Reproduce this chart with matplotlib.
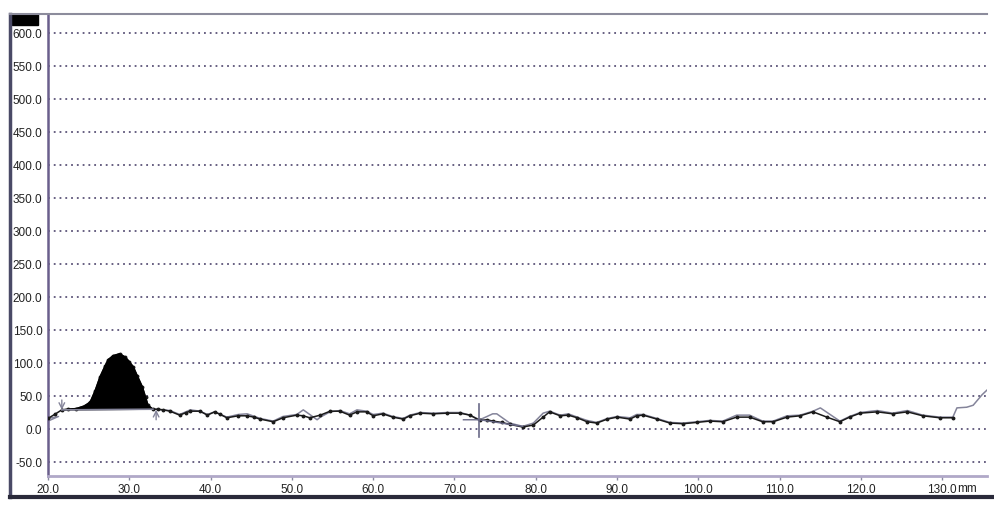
import numpy as np
import matplotlib.pyplot as plt
from matplotlib.lines import Line2D
from matplotlib.patches import Rectangle

plt.rcParams['font.family'] = ['Liberation Sans', 'DejaVu Sans']

# 轮廓数据 (黑色带点曲线)
prof_x = [20.0, 20.8, 21.7, 22.5, 23.5, 24.5, 25.2, 25.8, 26.4, 27.0, 27.4, 28.0, 28.8,
          29.5, 30.0, 30.5, 31.0, 31.6, 32.0, 32.3, 32.9, 33.5, 34.2, 35.0, 36.2, 37.0,
          37.5, 38.7, 39.6, 40.5, 41.2, 42.0, 43.4, 44.5, 45.3, 46.1, 47.7, 48.9, 50.6,
          51.4, 52.2, 53.5, 54.7, 55.9, 57.1, 58.0, 59.2, 60.0, 61.2, 62.4, 63.7, 64.5,
          65.8, 67.4, 69.1, 70.7, 71.9, 73.1, 74.0, 74.7, 75.8, 76.8, 78.4, 79.7, 80.9,
          81.7, 83.0, 84.0, 85.1, 86.3, 87.5, 88.8, 90.0, 91.6, 92.4, 93.2, 94.9, 96.5,
          98.1, 99.8, 101.4, 103.0, 104.7, 106.3, 107.9, 109.2, 110.9, 112.5, 114.1,
          115.8, 117.4, 118.6, 119.9, 122.0, 123.9, 125.7, 127.6, 129.7, 131.3]
prof_y = [16, 22, 29, 30, 31, 35, 41, 58, 79, 95, 105, 111, 114,
          109, 102, 94, 80, 64, 48, 36, 30, 30, 29, 27, 21, 25,
          27, 27, 21, 26, 22, 17, 20, 20, 18, 15, 11, 17, 21,
          20, 17, 21, 27, 27, 21, 26, 26, 20, 23, 18, 15, 20,
          24, 23, 24, 24, 21, 13, 14, 12, 10, 7, 3, 6, 18,
          26, 20, 21, 17, 11, 9, 15, 18, 15, 20, 21, 15, 9,
          8, 10, 12, 11, 18, 18, 11, 11, 18, 20, 26,
          18, 11, 18, 24, 26, 23, 26, 20, 17, 17]

# 参考曲线 (灰色)
ref_x = [33.0, 35.0, 36.2, 37.5, 38.7, 39.6, 40.5, 42.0, 43.4, 44.5, 46.1, 47.7, 48.9,
         50.6, 51.4, 52.2, 53.1, 53.5, 54.7, 55.9, 57.1, 58.0, 59.2, 60.0, 61.2, 62.4,
         63.7, 64.5, 65.8, 67.4, 69.1, 70.7, 71.9, 73.1, 74.0, 74.7, 75.2, 76.8, 78.4,
         79.7, 80.9, 81.7, 83.0, 84.0, 85.1, 86.3, 87.5, 88.8, 90.0, 91.6, 92.4, 93.2,
         94.9, 96.5, 98.1, 99.8, 101.4, 103.0, 104.7, 106.3, 107.9, 109.2, 110.9, 112.5,
         114.1, 115.0, 117.4, 118.6, 119.9, 122.0, 123.9, 125.7, 127.6, 129.7, 131.3,
         131.8, 133.0, 133.8, 134.9, 135.5]
ref_y = [30, 28, 22, 29, 27, 22, 26, 18, 22, 23, 16, 12, 19,
         22, 29, 22, 14, 18, 26, 28, 23, 29, 27, 22, 24, 19,
         16, 21, 25, 24, 25, 25, 21, 14, 19, 23, 23, 9, 4,
         9, 24, 27, 21, 23, 18, 13, 10, 16, 19, 17, 22, 22,
         16, 10, 9, 11, 13, 12, 21, 21, 12, 12, 20, 21,
         27, 32, 12, 19, 25, 28, 24, 28, 21, 18, 18,
         32, 33, 36, 52, 59]

# 峰区域
peak_start, peak_end = 2, 20

xticks = [20, 30, 40, 50, 60, 70, 80, 90, 100, 110, 120, 130]
yticks = [-50, 0, 50, 100, 150, 200, 250, 300, 350, 400, 450, 500, 550, 600]

fig = plt.figure(figsize=(9.94, 5.05), dpi=100)
ax = fig.add_axes([48/994, 29/505, 939/994, 462/505])
ax.set_xlim(20, 135.5)
ax.set_ylim(-71.2, 628.8)

grid_c = '#5c5478'
for v in yticks:
    ax.axhline(v, color=grid_c, lw=1.3, ls=(0, (1, 2.2)), zorder=1)

gray = '#84849a'
ax.plot(ref_x, ref_y, color=gray, lw=1.1, zorder=3)
ax.plot(prof_x, prof_y, color='#1a1a1a', lw=1.1, marker='o', ms=1.8, zorder=4)

px = prof_x[peak_start:peak_end + 1]
py = prof_y[peak_start:peak_end + 1]
ax.fill(px, py, color='black', zorder=5)
ax.plot([px[0], px[-1]], [py[0], py[-1]], color=gray, lw=1.2, zorder=6)

# 起始标记与箭头
ax.plot([20.0, 21.3, 20.2], [16, 19, 13], color=gray, lw=1)
ax.annotate('', xy=(21.7, 29), xytext=(21.7, 44),
            arrowprops=dict(arrowstyle='->', color=gray, lw=1, shrinkA=0, shrinkB=0))
ax.annotate('', xy=(33.3, 29), xytext=(33.3, 14),
            arrowprops=dict(arrowstyle='->', color=gray, lw=1, shrinkA=0, shrinkB=0))

# 光标十字
ax.plot([73.0, 73.0], [-12, 38], color='#6a6a88', lw=1.2, zorder=6)
ax.plot([71.1, 73.1, 78.4], [14, 14, 4], color='#6a6a88', lw=1.0, zorder=6)

ax.set_xticks(xticks)
ax.set_xticklabels(['%.1f' % v for v in xticks])
ax.set_yticks(yticks)
ax.set_yticklabels(['%.1f' % v for v in yticks])
ax.tick_params(axis='y', length=0, pad=4, labelsize=8.5, labelcolor='#222222')
ax.tick_params(axis='x', length=3, width=1, color='#8a8aa0', pad=3, labelsize=8.5,
               labelcolor='#222222')
ax.annotate('mm', xy=(130, 0), xycoords=('data', 'axes fraction'),
            xytext=(10.5, -5.0), textcoords='offset points',
            ha='left', va='top', fontsize=8.5, color='#222222')

for s in ['top', 'right']:
    ax.spines[s].set_visible(False)
ax.spines['left'].set_color('#6a5f8c')
ax.spines['left'].set_linewidth(1.8)
ax.spines['bottom'].set_color('#b0a8c8')
ax.spines['bottom'].set_linewidth(2)

# 外框
fig.add_artist(Line2D([10/994, 10/994], [1 - 14/505, 1 - 497/505], color='#4a4a66', lw=2.5))
fig.add_artist(Line2D([10/994, 987/994], [1 - 14/505, 1 - 14/505], color='#8c8c9c', lw=1.5))
fig.add_artist(Line2D([10/994, 1.0], [1 - 497/505, 1 - 497/505], color='#2a2a3a', lw=3))
fig.add_artist(Rectangle((12/994, 1 - 25/505), 26/994, 11/505, color='black',
                         transform=fig.transFigure))

fig.savefig('out.png', dpi=100)
